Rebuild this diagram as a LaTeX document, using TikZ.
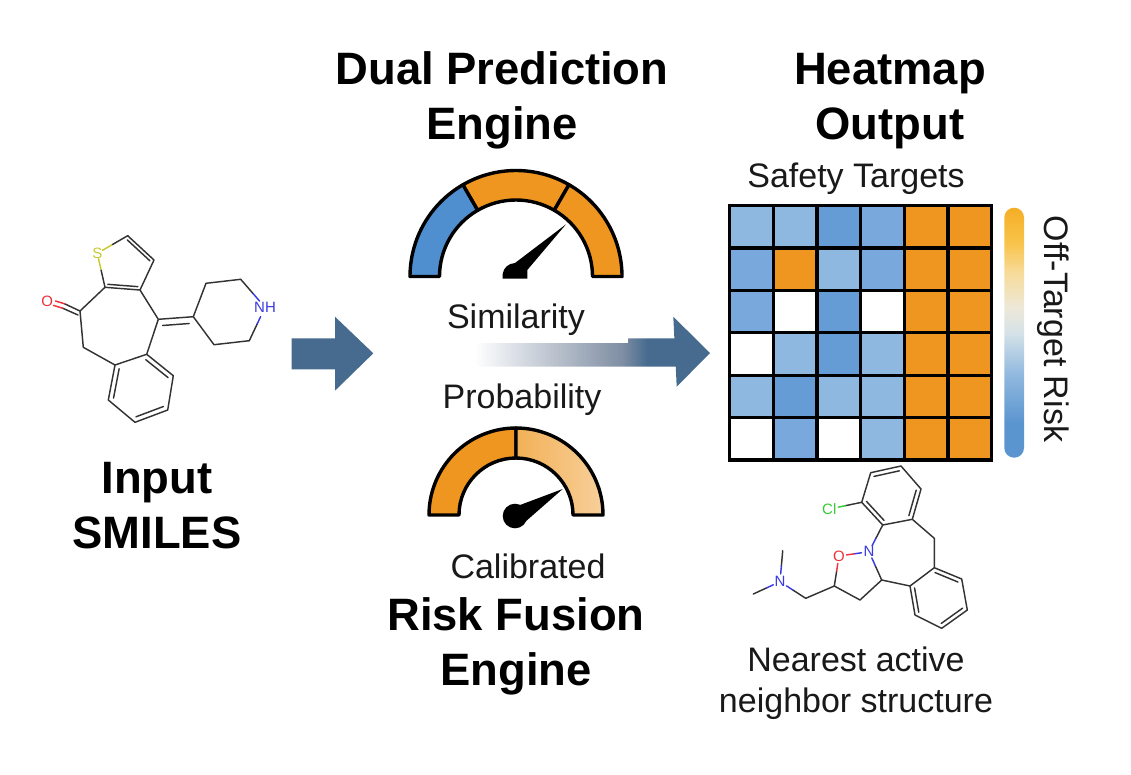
\documentclass[tikz,border=0pt]{standalone}
\usepackage{fontspec}
\setmainfont{Liberation Sans}
\usetikzlibrary{calc}
\definecolor{arrowblue}{HTML}{466B8F}
\definecolor{arrowmid}{HTML}{7F8EA3}
\definecolor{gaugeblue}{HTML}{4F8ECF}
\definecolor{heatorange}{HTML}{EE961F}
\definecolor{heatlight}{HTML}{8FB8E1}
\definecolor{heatmid}{HTML}{78A8DC}
\definecolor{heatdark}{HTML}{669CD6}
\definecolor{bond}{HTML}{333333}
\definecolor{atomS}{HTML}{C8C832}
\definecolor{atomO}{HTML}{F0303A}
\definecolor{atomN}{HTML}{3A3AE0}
\definecolor{atomCl}{HTML}{33CC33}
\definecolor{barA}{HTML}{F5AE25}
\definecolor{barB}{HTML}{F8C34A}
\definecolor{barC}{HTML}{F7DB9A}
\definecolor{barD}{HTML}{EDE8D8}
\definecolor{barE}{HTML}{D6E2E8}
\definecolor{barF}{HTML}{93BADF}
\definecolor{barG}{HTML}{5B95D0}
\pgfdeclareverticalshading{riskbar}{100bp}{color(0bp)=(barG);color(25bp)=(barG);color(32bp)=(barG);color(42bp)=(barF);color(50bp)=(barE);color(55bp)=(barD);color(62bp)=(barC);color(68bp)=(barB);color(75bp)=(barA);color(100bp)=(barA)}
\pgfdeclarehorizontalshading{fadearrow}{100bp}{color(0bp)=(white);color(26bp)=(white);color(62bp)=(arrowmid);color(68bp)=(arrowblue);color(75bp)=(arrowblue);color(100bp)=(arrowblue)}
\tikzset{
  titletext/.style={font=\fontsize{45.4}{50}\selectfont\bfseries,anchor=base,inner sep=0pt,text=black},
  labeltext/.style={font=\fontsize{34}{38}\selectfont,anchor=base,inner sep=0pt,text=black!90},
  atomtext/.style={font=\fontsize{15}{16}\selectfont,inner sep=0pt},
  bondline/.style={draw=bond,line width=1.45pt,line cap=round,line join=round},
  gaugeline/.style={draw=black,line width=3.4pt,line join=round},
  cellbox/.style={draw=black,line width=3.2pt},
  blockarrow/.style={fill=arrowblue,draw=none}
}
\begin{document}
\begin{tikzpicture}[x=1pt,y=-1pt]
\useasboundingbox (0,0) rectangle (1131,774);

% ---- molecule 1
\coordinate (s) at (97.3,253.3);
\coordinate (c1) at (127.7,235.7);
\coordinate (c2) at (154,260);
\coordinate (c3) at (140,290);
\coordinate (c4) at (105,287.3);
\coordinate (co) at (80,311);
\coordinate (ox) at (47.3,301);
\coordinate (ch2) at (83.3,347.3);
\coordinate (a1) at (115,365);
\coordinate (a2) at (146.7,354.3);
\coordinate (a3) at (173.3,375.7);
\coordinate (a4) at (167.7,410);
\coordinate (a5) at (135,422.3);
\coordinate (a6) at (108.3,400);
\coordinate (cx) at (158.3,319.3);
\coordinate (p1) at (193.3,316.7);
\coordinate (p2) at (206,283.3);
\coordinate (p3) at (240.7,279.3);
\coordinate (nh) at (265,307.3);
\coordinate (p5) at (249.3,340.7);
\coordinate (p6) at (214,344.7);
\coordinate (thc) at (125,266);
\coordinate (arc) at (141,388);
\node[atomtext,text=atomS] (sl) at (s) {S};
\node[atomtext,text=atomO] (ol) at (ox) {O};
\node[atomtext,text=atomN] (nl) at (nh) {NH};
\draw[bondline] (c1) -- (c2) -- (c3) -- (c4) (c4) -- (co) -- (ch2) -- (a1) -- (a2) -- (a3) -- (a4) -- (a5) -- (a6) -- (a1) (a2) -- (cx) -- (c3) (cx) -- (p1) -- (p2) -- (p3) (p5) -- (p6) -- (p1);
\draw[bondline] ($(c1)!.14!(thc)$) -- ($(c2)!.14!(thc)$);
\draw[bondline] ($(c3)!.14!(thc)$) -- ($(c4)!.14!(thc)$);
\draw[bondline] ($(a2)!.16!(arc)$) -- ($(a3)!.16!(arc)$);
\draw[bondline] ($(a4)!.16!(arc)$) -- ($(a5)!.16!(arc)$);
\draw[bondline] ($(a6)!.16!(arc)$) -- ($(a1)!.16!(arc)$);
\draw[bondline] ($(cx)!.12!(p1)+(0,6.5)$) -- ($(cx)!.88!(p1)+(0,6.5)$);
\draw[bondline] (co) -- ($(co)!.5!(ox)+(1,-2.2)$);
\draw[bondline,draw=atomO] ($(co)!.5!(ox)+(1,-2.2)$) -- ($(co)!.78!(ox)+(1,-2.2)$);
\draw[bondline] ($(co)+(-2,4)$) -- ($(co)!.5!(ox)+(-1,2.2)$);
\draw[bondline,draw=atomO] ($(co)!.5!(ox)+(-1,2.2)$) -- ($(co)!.78!(ox)+(-1,2.2)$);
\draw[bondline,draw=atomS] (sl) -- ($(sl)!.5!(c1)$) (sl) -- ($(s)!.5!(c4)$);
\draw[bondline] ($(s)!.5!(c1)$) -- (c1) ($(s)!.5!(c4)$) -- (c4);
\draw[bondline] (p3) -- ($(p3)!.5!(nh)$) (p5) -- ($(p5)!.5!(nh)$);
\draw[bondline,draw=atomN] ($(p3)!.5!(nh)$) -- ($(p3)!.78!(nh)$) ($(p5)!.5!(nh)$) -- ($(p5)!.72!(nh)$);

% ---- block arrows
\fill[blockarrow] (291.7,338.3) -- (335,338.3) -- (335,316.7) -- (373.3,353.3) -- (335,390.7) -- (335,369.3) -- (291.7,369.3) -- cycle;
\shade[shading=fadearrow] (470,343) -- (628,343) -- (628,338.3) -- (676,338.3) -- (676,366.7) -- (470,366.7) -- cycle;
\fill[blockarrow] (673.3,316.7) -- (710,353) -- (676.7,386.7) -- cycle;

% ---- gauge 1
\begin{scope}[shift={(516,276.5)},y=1pt]
  \filldraw[gaugeline,fill=gaugeblue] (180:106pt) arc[start angle=180,end angle=120,radius=106pt] -- (120:76.5pt) arc[start angle=120,end angle=180,radius=76.5pt] -- cycle;
  \filldraw[gaugeline,fill=heatorange] (120:106pt) arc[start angle=120,end angle=60,radius=106pt] -- (60:76.5pt) arc[start angle=60,end angle=120,radius=76.5pt] -- cycle;
  \filldraw[gaugeline,fill=heatorange] (60:106pt) arc[start angle=60,end angle=0,radius=106pt] -- (0:76.5pt) arc[start angle=0,end angle=60,radius=76.5pt] -- cycle;
\end{scope}
\fill[black] (502.7,278.5) -- (502.7,274) .. controls (503.5,268) and (508,263.5) .. (515,263) -- (566,224.3) -- (527.3,270) -- (527.3,278.5) -- cycle;

% ---- gauge 2
\begin{scope}[shift={(516,515)},y=1pt]
  \filldraw[gaugeline,fill=heatorange] (180:87pt) arc[start angle=180,end angle=90,radius=87pt] -- (90:57pt) arc[start angle=90,end angle=180,radius=57pt] -- cycle;
  \path[left color=heatorange!75!white,right color=heatorange!45!white] (90:87pt) arc[start angle=90,end angle=0,radius=87pt] -- (0:57pt) arc[start angle=0,end angle=90,radius=57pt] -- cycle;
  \draw[gaugeline] (90:87pt) arc[start angle=90,end angle=0,radius=87pt] -- (0:57pt) arc[start angle=0,end angle=90,radius=57pt] -- cycle;
\end{scope}
\fill[black] (515,516) circle[radius=12.3pt];
\fill[black] (520,505) -- (562.7,489) -- (525,522) -- cycle;

% ---- heatmap
\foreach \r/\rowcells in {0/{heatlight,heatlight,heatdark,heatmid,heatorange,heatorange},
                          1/{heatmid,heatorange,heatlight,heatmid,heatorange,heatorange},
                          2/{heatmid,white,heatdark,white,heatorange,heatorange},
                          3/{white,heatlight,heatdark,heatlight,heatorange,heatorange},
                          4/{heatlight,heatdark,heatlight,heatlight,heatorange,heatorange},
                          5/{white,heatmid,white,heatlight,heatorange,heatorange}}{
  \foreach \cellcol [count=\c from 0] in \rowcells {
    \filldraw[cellbox,fill=\cellcol] ({729.5+43.7*\c},{205.5+42.4*\r}) rectangle ({729.5+43.7*(\c+1)},{205.5+42.4*(\r+1)});
  }
}
\draw[draw=black,line width=3.5pt] (729.5,205.5) rectangle (991.7,459.9);

% ---- colour bar
\shade[shading=riskbar,rounded corners=9.8pt] (1004.3,207.7) rectangle (1024,457.7);

% ---- molecule 2
\coordinate (b1) at (870.7,472.7);
\coordinate (b2) at (901,466);
\coordinate (b3) at (921,489);
\coordinate (b4) at (912.3,519.3);
\coordinate (b5) at (882.7,525);
\coordinate (b6) at (861.7,502.3);
\coordinate (cl) at (829.3,509);
\coordinate (n1) at (869,551.7);
\coordinate (o1) at (839,556);
\coordinate (m1) at (934.3,538.3);
\coordinate (d1) at (934.3,567.7);
\coordinate (d2) at (961.7,579);
\coordinate (d3) at (967.3,610);
\coordinate (d4) at (941.7,628.3);
\coordinate (d5) at (915,615);
\coordinate (d6) at (910,586);
\coordinate (r1) at (881.7,580);
\coordinate (r2) at (860,600);
\coordinate (r3) at (834.3,586);
\coordinate (m2) at (805.7,598.3);
\coordinate (n2) at (780,581.7);
\coordinate (m3) at (782.7,550.7);
\coordinate (m4) at (753.3,594);
\coordinate (bc) at (891,496);
\coordinate (dc) at (938.5,598);
\node[atomtext,text=atomCl] (cll) at (cl) {Cl};
\node[atomtext,text=atomO] (oll) at (o1) {O};
\node[atomtext,text=atomN] (nll) at (n1) {N};
\node[atomtext,text=atomN] (n2l) at (n2) {N};
\draw[bondline] (b1) -- (b2) -- (b3) -- (b4) -- (b5) -- (b6) -- (b1) (b4) -- (m1) -- (d1) -- (d2) -- (d3) -- (d4) -- (d5) -- (d6) -- (d1) (d6) -- (r1) -- (r2) -- (r3) -- (m2);
\draw[bondline] ($(b1)!.16!(bc)$) -- ($(b2)!.16!(bc)$);
\draw[bondline] ($(b3)!.16!(bc)$) -- ($(b4)!.16!(bc)$);
\draw[bondline] ($(b5)!.16!(bc)$) -- ($(b6)!.16!(bc)$);
\draw[bondline] ($(d1)!.16!(dc)$) -- ($(d2)!.16!(dc)$);
\draw[bondline] ($(d3)!.16!(dc)$) -- ($(d4)!.16!(dc)$);
\draw[bondline] ($(d5)!.16!(dc)$) -- ($(d6)!.16!(dc)$);
\draw[bondline] (b6) -- ($(b6)!.5!(cl)$);
\draw[bondline,draw=atomCl] ($(b6)!.5!(cl)$) -- ($(b6)!.72!(cl)$);
\draw[bondline] (b5) -- ($(b5)!.5!(n1)$);
\draw[bondline,draw=atomN] ($(b5)!.5!(n1)$) -- ($(b5)!.78!(n1)$);
\draw[bondline] (r1) -- ($(r1)!.5!(n1)$);
\draw[bondline,draw=atomN] ($(r1)!.5!(n1)$) -- ($(r1)!.78!(n1)$);
\draw[bondline,draw=atomN] ($(n1)!.25!(o1)$) -- ($(n1)!.5!(o1)$);
\draw[bondline,draw=atomO] ($(n1)!.5!(o1)$) -- ($(n1)!.75!(o1)$);
\draw[bondline] (r3) -- ($(r3)!.5!(o1)$);
\draw[bondline,draw=atomO] ($(r3)!.5!(o1)$) -- ($(r3)!.75!(o1)$);
\draw[bondline] (m2) -- ($(m2)!.5!(n2)$);
\draw[bondline,draw=atomN] ($(m2)!.5!(n2)$) -- ($(m2)!.75!(n2)$);
\draw[bondline] (m3) -- ($(m3)!.5!(n2)$);
\draw[bondline,draw=atomN] ($(m3)!.5!(n2)$) -- ($(m3)!.75!(n2)$);
\draw[bondline] (m4) -- ($(m4)!.5!(n2)$);
\draw[bondline,draw=atomN] ($(m4)!.5!(n2)$) -- ($(m4)!.75!(n2)$);

% ---- text
\node[titletext] (dual) at (502,84.5) {Dual Prediction};
\node[titletext] (engine1) at (502,139.5) {Engine};
\node[titletext] (heat) at (890,84.5) {Heatmap};
\node[titletext] (output) at (890,139.5) {Output};
\node[titletext] (input) at (157,493) {Input};
\node[titletext] (smiles) at (157,548) {SMILES};
\node[titletext] (risk) at (516,630.5) {Risk Fusion};
\node[titletext] (engine2) at (516,685.5) {Engine};
\node[labeltext] (safety) at (856,187) {Safety Targets};
\node[labeltext] (sim) at (516,328) {Similarity};
\node[labeltext] (prob) at (522,408) {Probability};
\node[labeltext] (cal) at (528,578) {Calibrated};
\node[labeltext] (near) at (856,671) {Nearest active};
\node[labeltext] (neigh) at (856,712) {neighbor structure};
\node[labeltext,anchor=center,rotate=-90] (off) at (1053,329) {Off-Target Risk};
\end{tikzpicture}
\end{document}
